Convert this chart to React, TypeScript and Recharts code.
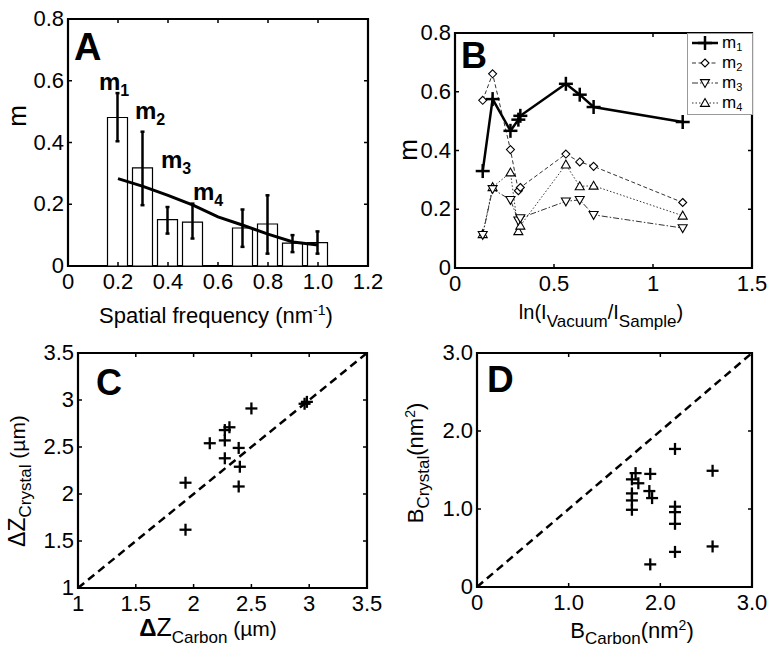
import React from "react";
import { ComposedChart, Bar, Line, Scatter, XAxis, YAxis, ErrorBar, ReferenceArea, Legend } from "recharts";

const FONT = "'Liberation Sans', Arial, Helvetica, sans-serif";
const TICK = 4;

// ---- panel A : m vs spatial frequency ----
const aFreq = [0.2, 0.3, 0.4, 0.5, 0.6, 0.7, 0.8, 0.9, 1.0];
const aBar = [0.481, 0.318, 0.15, 0.142, null, 0.123, 0.136, 0.074, 0.076];
const aLow = [0.404, 0.197, 0.105, 0.089, null, 0.062, 0.04, 0.045, 0.04];
const aHigh = [0.56, 0.435, 0.191, 0.202, null, 0.183, 0.229, 0.1, 0.112];
const aFit = [0.283, 0.258, 0.229, 0.197, 0.159, 0.132, 0.103, 0.078, 0.068];
const aXTicks = [0, 0.2, 0.4, 0.6, 0.8, 1.0, 1.2];
const aXLabels = ["0", "0.2", "0.4", "0.6", "0.8", "1.0", "1.2"];
const mTicks = [0, 0.2, 0.4, 0.6, 0.8];
const mLabels = ["0", "0.2", "0.4", "0.6", "0.8"];

// ---- panel B : m vs ln(Ivac/Isample) ----
const bAtten = [0.14, 0.19, 0.28, 0.32, 0.33, 0.56, 0.63, 0.7, 1.15];
const bM1 = [0.33, 0.575, 0.467, 0.505, 0.518, 0.627, 0.59, 0.548, 0.497];
const bM2 = [0.571, 0.661, 0.403, 0.263, 0.274, 0.388, 0.361, 0.346, 0.223];
const bM3 = [0.113, 0.269, 0.232, 0.162, 0.17, 0.227, 0.232, 0.181, 0.136];
const bM4 = [0.115, 0.275, 0.325, 0.125, 0.144, 0.352, 0.278, 0.28, 0.178];
const bXTicks = [0, 0.5, 1, 1.5];
const bXLabels = ["0", "0.5", "1", "1.5"];
const bNames = ["1", "2", "3", "4"];

// ---- panel C : defocus ----
const cCarbon = [1.93, 1.93, 2.14, 2.27, 2.27, 2.27, 2.31, 2.39, 2.4, 2.39, 2.5, 2.96, 2.98];
const cCrystal = [1.62, 2.12, 2.54, 2.38, 2.57, 2.68, 2.71, 2.49, 2.29, 2.08, 2.91, 2.96, 2.98];
const cTicks = [1, 1.5, 2, 2.5, 3, 3.5];
const cLabels = ["1", "1.5", "2", "2.5", "3", "3.5"];

// ---- panel D : B-factor ----
const dCarbon = [1.69, 1.69, 1.69, 1.69, 1.73, 1.76, 1.89, 1.88, 1.91, 1.89, 2.16, 2.16, 2.16, 2.16, 2.16, 2.57, 2.57];
const dCrystal = [0.99, 1.11, 1.2, 1.38, 1.46, 1.33, 1.45, 1.23, 1.14, 0.29, 1.77, 1.03, 0.96, 0.81, 0.45, 1.49, 0.52];
const dTicks = [0, 1, 2, 3];
const dLabels = ["0", "1.0", "2.0", "3.0"];

const aData = aFreq.map((x, i) => ({
  x,
  m: aBar[i] ?? undefined,
  err: aBar[i] == null ? undefined : [aBar[i]! - aLow[i]!, aHigh[i]! - aBar[i]!],
  fit: aFit[i],
}));
const bData = bAtten.map((x, i) => ({ x, m1: bM1[i], m2: bM2[i], m3: bM3[i], m4: bM4[i] }));
const cData = cCarbon.map((x, i) => ({ x, y: cCrystal[i] }));
const dData = dCarbon.map((x, i) => ({ x, y: dCrystal[i] }));
const cDiag = [cTicks[0], cTicks[cTicks.length - 1]].map((v) => ({ x: v, y: v }));
const dDiag = [dTicks[0], dTicks[dTicks.length - 1]].map((v) => ({ x: v, y: v }));

const lookup = (ticks: number[], labels: string[]) => (v: number) =>
  labels[ticks.findIndex((t) => Math.abs(t - v) < 1e-6)] ?? "";

const xTick = (ticks: number[], labels: string[], plotH: number) => (p: any) => (
  <g key={`xt${p.index}`}>
    <line x1={p.x} x2={p.x} y1={p.y} y2={p.y - TICK} stroke="#000" strokeWidth={1.5} />
    <line x1={p.x} x2={p.x} y1={p.y - plotH} y2={p.y - plotH + TICK} stroke="#000" strokeWidth={1.5} />
    <text x={p.x} y={p.y + 23} textAnchor="middle" fontSize={22} fontFamily={FONT} fill="#000">
      {lookup(ticks, labels)(p.payload.value)}
    </text>
  </g>
);

const yTick = (ticks: number[], labels: string[], plotW: number) => (p: any) => (
  <g key={`yt${p.index}`}>
    <line x1={p.x} x2={p.x + TICK} y1={p.y} y2={p.y} stroke="#000" strokeWidth={1.5} />
    <line x1={p.x + plotW} x2={p.x + plotW - TICK} y1={p.y} y2={p.y} stroke="#000" strokeWidth={1.5} />
    <text x={p.x - 4} y={p.y + 7} textAnchor="end" fontSize={22} fontFamily={FONT} fill="#000">
      {lookup(ticks, labels)(p.payload.value)}
    </text>
  </g>
);

const Plus = ({ cx, cy, r, w }: any) => (
  <g>
    <line x1={cx - r} x2={cx + r} y1={cy} y2={cy} stroke="#000" strokeWidth={w} />
    <line x1={cx} x2={cx} y1={cy - r} y2={cy + r} stroke="#000" strokeWidth={w} />
  </g>
);
const Diamond = ({ cx, cy, r }: any) => (
  <path d={`M${cx},${cy - r}L${cx + r},${cy}L${cx},${cy + r}L${cx - r},${cy}Z`} fill="#fff" stroke="#000" strokeWidth={1.1} />
);
const TriDown = ({ cx, cy, r }: any) => (
  <path d={`M${cx - r},${cy - r * 0.75}L${cx + r},${cy - r * 0.75}L${cx},${cy + r}Z`} fill="#fff" stroke="#000" strokeWidth={1.1} />
);
const TriUp = ({ cx, cy, r }: any) => (
  <path d={`M${cx - r},${cy + r * 0.75}L${cx + r},${cy + r * 0.75}L${cx},${cy - r}Z`} fill="#fff" stroke="#000" strokeWidth={1.1} />
);

const bStyle = [
  { w: 2.5, dash: undefined, color: "#000", mark: (cx: number, cy: number) => <Plus cx={cx} cy={cy} r={7} w={2.5} /> },
  { w: 1, dash: "4 2.5", color: "#333", mark: (cx: number, cy: number) => <Diamond cx={cx} cy={cy} r={4} /> },
  { w: 1, dash: "6 2 1.5 2", color: "#333", mark: (cx: number, cy: number) => <TriDown cx={cx} cy={cy} r={4.5} /> },
  { w: 1, dash: "1.5 2", color: "#333", mark: (cx: number, cy: number) => <TriUp cx={cx} cy={cy} r={4.5} /> },
];

const BLegend = () => {
  const rows = [10, 30, 50, 70];
  return (
    <svg width={66} height={82} style={{ overflow: "visible", display: "block" }} fontFamily={FONT}>
      <rect x={0.5} y={0.5} width={65} height={81} fill="#fff" stroke="#999" strokeWidth={1} />
      {rows.map((ry, i) => (
        <g key={i}>
          <line x1={5} x2={31} y1={ry} y2={ry} stroke={bStyle[i].color} strokeWidth={bStyle[i].w} strokeDasharray={bStyle[i].dash} />
          {bStyle[i].mark(18, ry)}
          <text x={35} y={ry + 5} fontSize={17}>
            m<tspan dy={3} fontSize={11}>{bNames[i]}</tspan>
          </text>
        </g>
      ))}
    </svg>
  );
};

const Box = ({ x1, x2, y1, y2 }: any) => (
  <ReferenceArea x1={x1} x2={x2} y1={y1} y2={y2} fill="none" stroke="#000" strokeWidth={2.2} ifOverflow="visible" />
);

const pos = (left: number, top: number): React.CSSProperties => ({ position: "absolute", left, top });

const Overlay = () => (
  <svg width={770} height={650} style={{ position: "absolute", left: 0, top: 0, pointerEvents: "none" }} fontFamily={FONT} fill="#000">
    <text x={74} y={60} fontSize={38} fontWeight="bold">A</text>
    <text x={461} y={68} fontSize={36} fontWeight="bold">B</text>
    <text x={96} y={395} fontSize={36} fontWeight="bold">C</text>
    <text x={487} y={392} fontSize={37} fontWeight="bold">D</text>

    <text x={99} y={90} fontSize={24} fontWeight="bold">m<tspan dy={6} fontSize={16}>1</tspan></text>
    <text x={135} y={119} fontSize={24} fontWeight="bold">m<tspan dy={6} fontSize={16}>2</tspan></text>
    <text x={161} y={168} fontSize={24} fontWeight="bold">m<tspan dy={6} fontSize={16}>3</tspan></text>
    <text x={193} y={200} fontSize={24} fontWeight="bold">m<tspan dy={6} fontSize={16}>4</tspan></text>

    <text transform="translate(26,116) rotate(-90)" textAnchor="middle" fontSize={26}>m</text>
    <text x={216} y={323} textAnchor="middle" fontSize={22}>
      Spatial frequency (nm<tspan dy={-8} fontSize={14}>-1</tspan><tspan dy={8}>)</tspan>
    </text>

    <text transform="translate(417,150) rotate(-90)" textAnchor="middle" fontSize={26}>m</text>
    <text x={601} y={319} textAnchor="middle" fontSize={20}>
      ln(I<tspan dy={8} fontSize={17}>Vacuum</tspan><tspan dy={-8}>/I</tspan><tspan dy={8} fontSize={17}>Sample</tspan><tspan dy={-8}>)</tspan>
    </text>

    <text transform="translate(25,481) rotate(-90)" textAnchor="middle" fontSize={23}>
      ΔZ<tspan dy={6} fontSize={17}>Crystal</tspan><tspan dy={-6} fontSize={21}> (µm)</tspan>
    </text>
    <text x={208} y={636} textAnchor="middle" fontSize={21}>
      <tspan fontWeight="bold" fontSize={24}>Δ</tspan><tspan fontSize={25}>Z</tspan><tspan dy={7} fontSize={17}>Carbon</tspan><tspan dy={-7}> (µm)</tspan>
    </text>

    <text transform="translate(423,463) rotate(-90)" textAnchor="middle" fontSize={22}>
      B<tspan dy={6} fontSize={17}>Crystal</tspan><tspan dy={-6}>(nm</tspan><tspan dy={-8} fontSize={14}>2</tspan><tspan dy={8}>)</tspan>
    </text>
    <text x={632} y={638} textAnchor="middle" fontSize={22}>
      B<tspan dy={6} fontSize={17}>Carbon</tspan><tspan dy={-6}>(nm</tspan><tspan dy={-8} fontSize={14}>2</tspan><tspan dy={8}>)</tspan>
    </text>
  </svg>
);

export default function App() {
  return (
    <div style={{ position: "absolute", left: 0, top: 0, width: 770, height: 650, background: "#fff" }}>
      {/* A */}
      <div style={pos(0, 0)}>
        <ComposedChart width={385} height={325} data={aData} margin={{ left: 38, top: 19, right: 17, bottom: 29 }}>
          <XAxis dataKey="x" type="number" domain={[0, 1.2]} ticks={aXTicks} interval={0} height={30}
                 tickSize={0} tickMargin={0} axisLine={false} tickLine={false} tick={xTick(aXTicks, aXLabels, 247)} />
          <YAxis type="number" domain={[0, 0.8]} ticks={mTicks} interval={0} width={30}
                 tickSize={0} tickMargin={0} axisLine={false} tickLine={false} tick={yTick(mTicks, mLabels, 300)} />
          <Bar dataKey="m" barSize={20} fill="#fff" stroke="#000" strokeWidth={1.2} isAnimationActive={false}>
            <ErrorBar dataKey="err" width={2} strokeWidth={2.5} stroke="#000" direction="y" />
          </Bar>
          <Line dataKey="fit" stroke="#000" strokeWidth={3} dot={false} isAnimationActive={false} />
          <Box x1={0} x2={1.2} y1={0} y2={0.8} />
        </ComposedChart>
      </div>

      {/* B */}
      <div style={pos(385, 0)}>
        <ComposedChart width={385} height={325} data={bData} margin={{ left: 40, top: 33, right: 18, bottom: 27 }}>
          <XAxis dataKey="x" type="number" domain={[0, 1.5]} ticks={bXTicks} interval={0} height={30}
                 tickSize={0} tickMargin={0} axisLine={false} tickLine={false} tick={xTick(bXTicks, bXLabels, 235)} />
          <YAxis type="number" domain={[0, 0.8]} ticks={mTicks} interval={0} width={30}
                 tickSize={0} tickMargin={0} axisLine={false} tickLine={false} tick={yTick(mTicks, mLabels, 297)} />
          <Box x1={0} x2={1.5} y1={0} y2={0.8} />
          {[4, 3, 2, 1].map((k) => {
            const s = bStyle[k - 1];
            return (
              <Line key={k} dataKey={`m${k}`} name={`m${k}`} stroke={s.color} strokeWidth={s.w} strokeDasharray={s.dash}
                    isAnimationActive={false}
                    dot={(p: any) => <g key={`d${k}-${p.index}`}>{s.mark(p.cx, p.cy)}</g>} activeDot={false} />
            );
          })}
          <Legend layout="horizontal" verticalAlign="middle" align="center"
                  wrapperStyle={{ position: "absolute", left: 301.5, top: 32.5, width: 66, height: 82, margin: 0, padding: 0 }}
                  content={() => <BLegend />} />
        </ComposedChart>
      </div>

      {/* C */}
      <div style={pos(0, 325)}>
        <ComposedChart width={385} height={325} margin={{ left: 48, top: 28, right: 18, bottom: 32 }}>
          <XAxis dataKey="x" type="number" domain={[1, 3.5]} ticks={cTicks} interval={0} height={30}
                 tickSize={0} tickMargin={0} axisLine={false} tickLine={false} tick={xTick(cTicks, cLabels, 235)} />
          <YAxis dataKey="y" type="number" domain={[1, 3.5]} ticks={cTicks} interval={0} width={30}
                 tickSize={0} tickMargin={0} axisLine={false} tickLine={false} tick={yTick(cTicks, cLabels, 289)} />
          <Line data={cDiag} dataKey="y" stroke="#000" strokeWidth={2.5} strokeDasharray="8 5" dot={false} isAnimationActive={false} />
          <Scatter data={cData} dataKey="y" isAnimationActive={false}
                   shape={(p: any) => <Plus cx={p.cx} cy={p.cy} r={6} w={2.3} />} />
          <Box x1={1} x2={3.5} y1={1} y2={3.5} />
        </ComposedChart>
      </div>

      {/* D */}
      <div style={pos(385, 325)}>
        <ComposedChart width={385} height={325} margin={{ left: 62, top: 28, right: 18, bottom: 33 }}>
          <XAxis dataKey="x" type="number" domain={[0, 3]} ticks={dTicks} interval={0} height={30}
                 tickSize={0} tickMargin={0} axisLine={false} tickLine={false} tick={xTick(dTicks, dLabels, 234)} />
          <YAxis dataKey="y" type="number" domain={[0, 3]} ticks={dTicks} interval={0} width={30}
                 tickSize={0} tickMargin={0} axisLine={false} tickLine={false} tick={yTick(dTicks, dLabels, 275)} />
          <Line data={dDiag} dataKey="y" stroke="#000" strokeWidth={2.5} strokeDasharray="8 5" dot={false} isAnimationActive={false} />
          <Scatter data={dData} dataKey="y" isAnimationActive={false}
                   shape={(p: any) => <Plus cx={p.cx} cy={p.cy} r={6} w={2.3} />} />
          <Box x1={0} x2={3} y1={0} y2={3} />
        </ComposedChart>
      </div>

      <Overlay />
    </div>
  );
}
